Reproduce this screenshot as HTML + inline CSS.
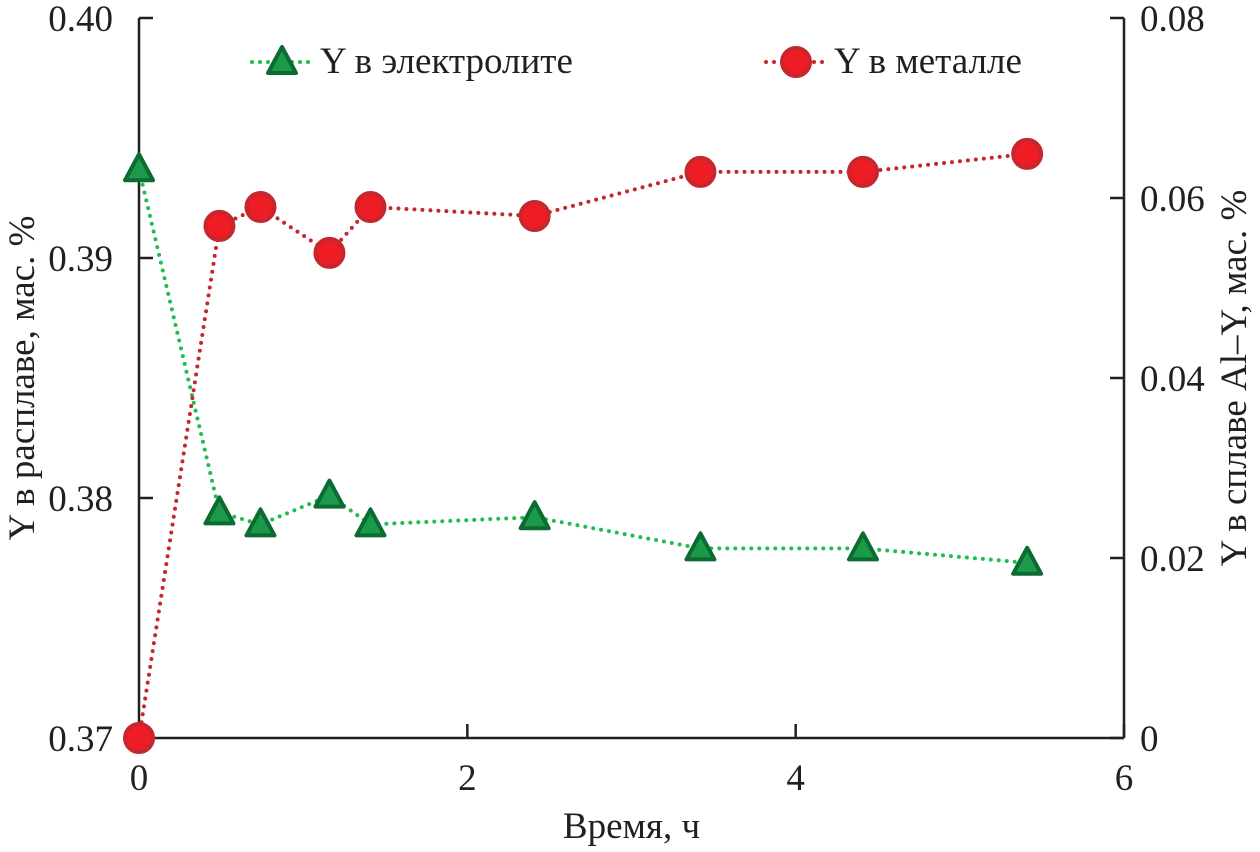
<!DOCTYPE html>
<html><head><meta charset="utf-8"><style>
body{margin:0;background:#fff}
svg text{font-family:"Liberation Serif",serif;fill:#231f20}
</style></head><body>
<svg id="c" width="1260" height="847" viewBox="0 0 1260 847">
</svg>
<script>
const times=[0,0.49,0.74,1.16,1.41,2.41,3.42,4.41,5.41];
const electrolyte=[0.3937,0.3794,0.3789,0.3801,0.3789,0.3792,0.3779,0.3779,0.3773];
const metal=[0,0.0569,0.059,0.0539,0.059,0.058,0.0629,0.0629,0.0649];
const xTicks=[0,2,4,6];
const yLeftTicks=[0.37,0.38,0.39,0.40];
const yRightTicks=[0,0.02,0.04,0.06,0.08];
const NS='http://www.w3.org/2000/svg';
const svg=document.getElementById('c');
const X0=139,X1=1124,Y0=738,Y1=18;
const sx=v=>X0+(v-0)/(6-0)*(X1-X0);
const syL=v=>Y0-(v-0.37)/(0.40-0.37)*(Y0-Y1);
const syR=v=>Y0-(v-0)/(0.08-0)*(Y0-Y1);
function el(t,a,p){const e=document.createElementNS(NS,t);for(const k in a)e.setAttribute(k,a[k]);(p||svg).appendChild(e);return e;}
function txt(s,x,y,a){const e=el('text',Object.assign({x:x,y:y,'font-size':37},a||{}));e.textContent=s;return e;}
let ax=el('g',{});


el('line',{x1:X0,y1:Y1,x2:X0,y2:Y0,stroke:'#231f20','stroke-width':2.5},ax);
el('line',{x1:X1,y1:Y1,x2:X1,y2:Y0,stroke:'#231f20','stroke-width':2.5},ax);
el('line',{x1:X0,y1:Y0,x2:X1,y2:Y0,stroke:'#231f20','stroke-width':2.5},ax);
xTicks.forEach(v=>{const x=sx(v);el('line',{x1:x,y1:Y0,x2:x,y2:Y0-14,stroke:'#231f20','stroke-width':2.5},ax);
 const t=txt(String(v),x,Y0+52,{'text-anchor':'middle'});});
yLeftTicks.forEach(v=>{const y=syL(v);el('line',{x1:X0,y1:y,x2:X0+14,y2:y,stroke:'#231f20','stroke-width':2.5},ax);
 const t=txt(v.toFixed(2),X0-26,y+13,{'text-anchor':'end'});});
yRightTicks.forEach(v=>{const y=syR(v);el('line',{x1:X1,y1:y,x2:X1-14,y2:y,stroke:'#231f20','stroke-width':2.5},ax);
 const t=txt(v===0?'0':v.toFixed(2),X1+16,y+13,{});});
let t=txt('Время, ч',(X0+X1)/2,838,{'text-anchor':'middle'});


t=txt('Y в расплаве, мас. %',0,0,{'text-anchor':'middle',transform:'translate(34,378) rotate(-90)'});


t=txt('Y в сплаве Al–Y, мас. %',0,0,{'text-anchor':'middle',transform:'translate(1246,378) rotate(-90)'});


function tri(x,y,g){el('polygon',{points:`${x},${y-15} ${x-14},${y+11} ${x+14},${y+11}`,fill:'#1d9a49',stroke:'#0b6b33','stroke-width':4,'stroke-linejoin':'round'},g);}
function circ(x,y,g){el('circle',{cx:x,cy:y,r:14,fill:'#ee1c25',stroke:'#c6262d','stroke-width':4},g);}
let g1=el('g',{});


el('polyline',{points:times.map((v,i)=>sx(v)+','+syL(electrolyte[i])).join(' '),fill:'none',stroke:'#1dbf4a','stroke-width':4,'stroke-dasharray':'0 8','stroke-linecap':'round'},g1);
let g2=el('g',{});


el('polyline',{points:times.map((v,i)=>sx(v)+','+syR(metal[i])).join(' '),fill:'none',stroke:'#c6262d','stroke-width':4,'stroke-dasharray':'0 8','stroke-linecap':'round'},g2);
times.forEach((v,i)=>tri(sx(v),syL(electrolyte[i]),g1));
times.forEach((v,i)=>circ(sx(v),syR(metal[i]),g2));
let lg=el('g',{});


el('line',{x1:252,y1:62,x2:312,y2:62,stroke:'#1dbf4a','stroke-width':4,'stroke-dasharray':'0 8','stroke-linecap':'round'},lg);
tri(282,62,lg);
txt('Y в электролите',320,73,{});
el('line',{x1:766,y1:62,x2:826,y2:62,stroke:'#c6262d','stroke-width':4,'stroke-dasharray':'0 8','stroke-linecap':'round'},lg);
circ(796,62,lg);
txt('Y в металле',834,73,{});
</script>
</body></html>
